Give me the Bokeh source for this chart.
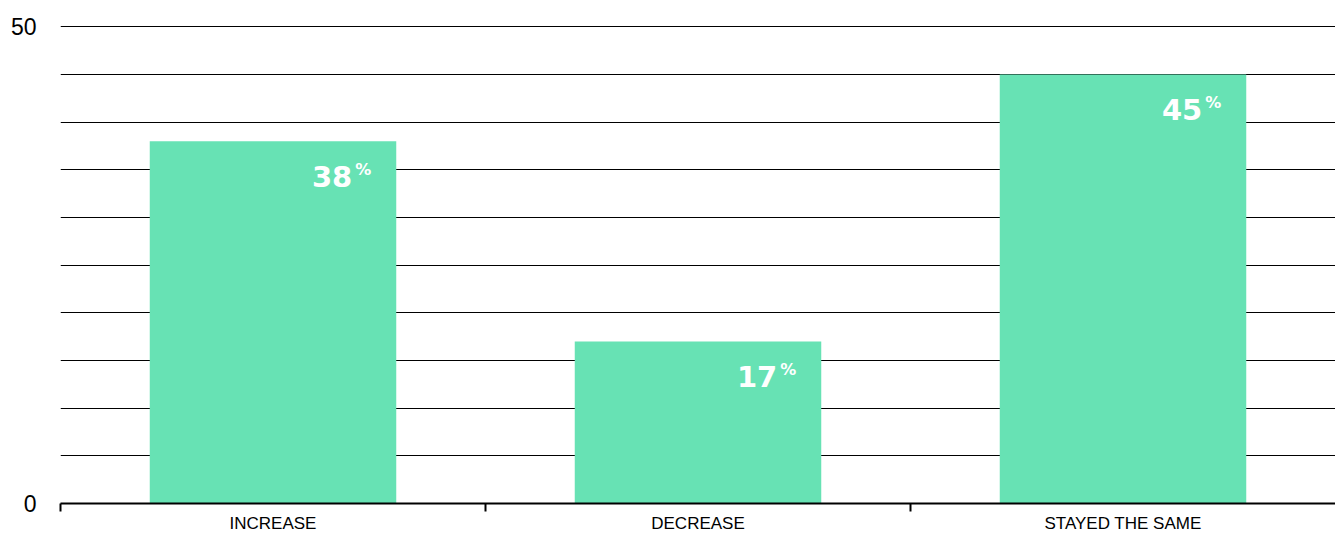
from bokeh.plotting import figure
from bokeh.models import ColumnDataSource, Range1d, FixedTicker
from bokeh.core.properties import value
from bokeh.embed import file_html
from bokeh.resources import INLINE

categories = ["INCREASE", "DECREASE", "STAYED THE SAME"]
values = [38, 17, 45]
y_tick_labels = [0, 50]
grid_ticks = [0, 5, 10, 15, 20, 25, 30, 35, 40, 45, 50]

BAR_W = 0.58
centers = [i + 0.5 for i in range(len(categories))]
src = ColumnDataSource(dict(
    x=centers,
    top=values,
    right=[c + BAR_W / 2 for c in centers],
    num=[str(v) for v in values],
    pct=["%"] * len(values),
))

p = figure(width=1335, height=535, output_backend="svg", toolbar_location=None,
           x_range=Range1d(0, 3), y_range=Range1d(0, 50.15),
           min_border_left=60, min_border_right=0, min_border_top=25,
           min_border_bottom=32)
p.outline_line_color = None
p.background_fill_color = "white"
p.border_fill_color = "white"

p.vbar(x="x", top="top", width=BAR_W, bottom=0, source=src,
       fill_color="#67E2B4", line_color=None)

p.text(x="right", y="top", text="num", source=src,
       text_font=value("DejaVu Sans"), text_font_style="bold",
       text_font_size="29px", text_color="white",
       text_align="right", text_baseline="alphabetic",
       x_offset=-44, y_offset=35)
p.text(x="right", y="top", text="pct", source=src,
       text_font=value("DejaVu Sans"), text_font_style="bold",
       text_font_size="16px", text_color="white",
       text_align="right", text_baseline="alphabetic",
       x_offset=-25, y_offset=28)

# grid
p.xgrid.visible = False
p.ygrid.ticker = FixedTicker(ticks=grid_ticks)
p.ygrid.grid_line_color = "black"
p.ygrid.grid_line_width = 1

# y axis
ya = p.yaxis[0]
ya.ticker = FixedTicker(ticks=y_tick_labels)
ya.axis_line_color = None
ya.major_tick_line_color = None
ya.minor_tick_line_color = None
ya.major_label_text_font = "Liberation Sans"
ya.major_label_text_font_size = "23px"
ya.major_label_text_color = "black"
ya.major_label_standoff = 18

# x axis
xa = p.xaxis[0]
xa.ticker = FixedTicker(ticks=centers, minor_ticks=[0, 1, 2])
xa.major_label_overrides = {c: cat for c, cat in zip(centers, categories)}
xa.axis_line_color = "black"
xa.axis_line_width = 2
xa.major_tick_line_color = None
xa.major_tick_out = 0
xa.major_tick_in = 0
xa.minor_tick_line_color = "black"
xa.minor_tick_line_width = 2
xa.minor_tick_out = 8
xa.minor_tick_in = 0
xa.major_label_text_font = "Liberation Sans"
xa.major_label_text_font_size = "17px"
xa.major_label_text_color = "black"
xa.major_label_standoff = 2

open("out.html", "w").write(file_html(p, INLINE))
